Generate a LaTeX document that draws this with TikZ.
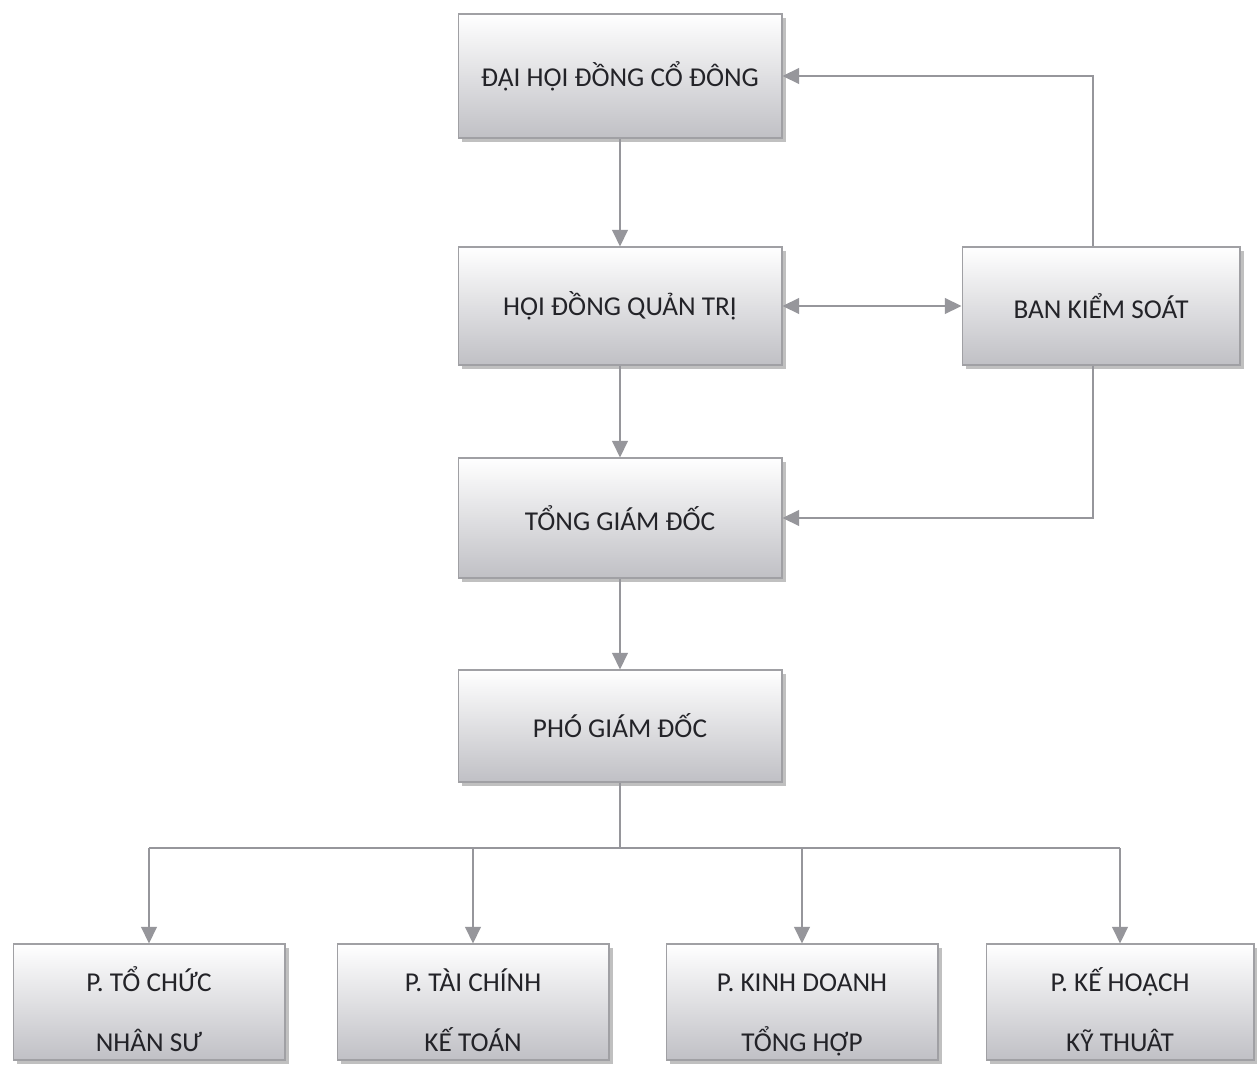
\documentclass[tikz,border=0pt]{standalone}
\usepackage{fontspec}
\setmainfont{Carlito}
\usetikzlibrary{arrows.meta,shadows}
\definecolor{boxbot}{RGB}{192,192,197}
\definecolor{boxline}{RGB}{160,160,164}
\definecolor{linec}{RGB}{150,150,155}
\definecolor{textc}{RGB}{35,35,40}
\newcommand\toprow[1]{\rule{0pt}{25pt}#1}
\newcommand\botrow[1]{\vphantom{Ợ}#1}
\begin{document}
\begin{tikzpicture}[x=0.02cm,y=-0.02cm,
  >={Triangle[length=9.5pt,width=9pt]},
  box/.style={draw=boxline, line width=0.6pt, top color=white, bottom color=boxbot,
    drop shadow={shadow xshift=2.5pt, shadow yshift=-2.5pt, opacity=0.35, fill=black!70},
    font=\fontsize{15.5}{17}\selectfont, text=textc, align=center, inner sep=0pt},
  mainbox/.style={box, minimum width=6.48cm},
  deptbox/.style={box, minimum width=5.44cm, minimum height=2.32cm},
  link/.style={draw=linec, line width=0.9pt},
  conn/.style={link, ->}]
\useasboundingbox (0,0) rectangle (1257,1068);
\fill[white] (0,0) rectangle (1257,1068);

\node[mainbox, minimum height=2.48cm] (dh) at (620,76) {ĐẠI HỘI ĐỒNG CỔ ĐÔNG};
\node[mainbox, minimum height=2.36cm] (hd) at (620,306) {HỘI ĐỒNG QUẢN TRỊ};
\node[box, minimum width=5.56cm, minimum height=2.36cm] (bk) at (1101,306) {BAN KIỂM SOÁT};
\node[mainbox, minimum height=2.40cm] (tg) at (620,518) {TỔNG GIÁM ĐỐC};
\node[mainbox, minimum height=2.24cm] (pg) at (620,726) {PHÓ GIÁM ĐỐC};

\node[deptbox] (p1) at (149,1002) {\toprow{P. TỔ CHỨC}\\[17pt]\botrow{NHÂN SƯ}};
\node[deptbox] (p2) at (473,1002) {\toprow{P. TÀI CHÍNH}\\[17pt]\botrow{KẾ TOÁN}};
\node[deptbox] (p3) at (802,1002) {\toprow{P. KINH DOANH}\\[17pt]\botrow{TỔNG HỢP}};
\node[deptbox, minimum width=5.36cm] (p4) at (1120,1002) {\toprow{P. KẾ HOẠCH}\\[17pt]\botrow{KỸ THUÂT}};

\draw[conn] (dh.south) -- (hd.north);
\draw[conn] (hd.south) -- (tg.north);
\draw[conn] (tg.south) -- (pg.north);
\draw[link, <->] (hd.east) -- (bk.west);
\draw[conn] ([xshift=-0.16cm]bk.north) |- (dh.east);
\draw[conn] ([xshift=-0.16cm]bk.south) |- (tg.east);

\coordinate (bus) at (620,848);
\draw[link] (pg.south) -- (bus);
\draw[link] (p1.north |- bus) -- (p4.north |- bus);
\draw[conn] (p1.north |- bus) -- (p1.north);
\draw[conn] (p2.north |- bus) -- (p2.north);
\draw[conn] (p3.north |- bus) -- (p3.north);
\draw[conn] (p4.north |- bus) -- (p4.north);
\end{tikzpicture}
\end{document}
